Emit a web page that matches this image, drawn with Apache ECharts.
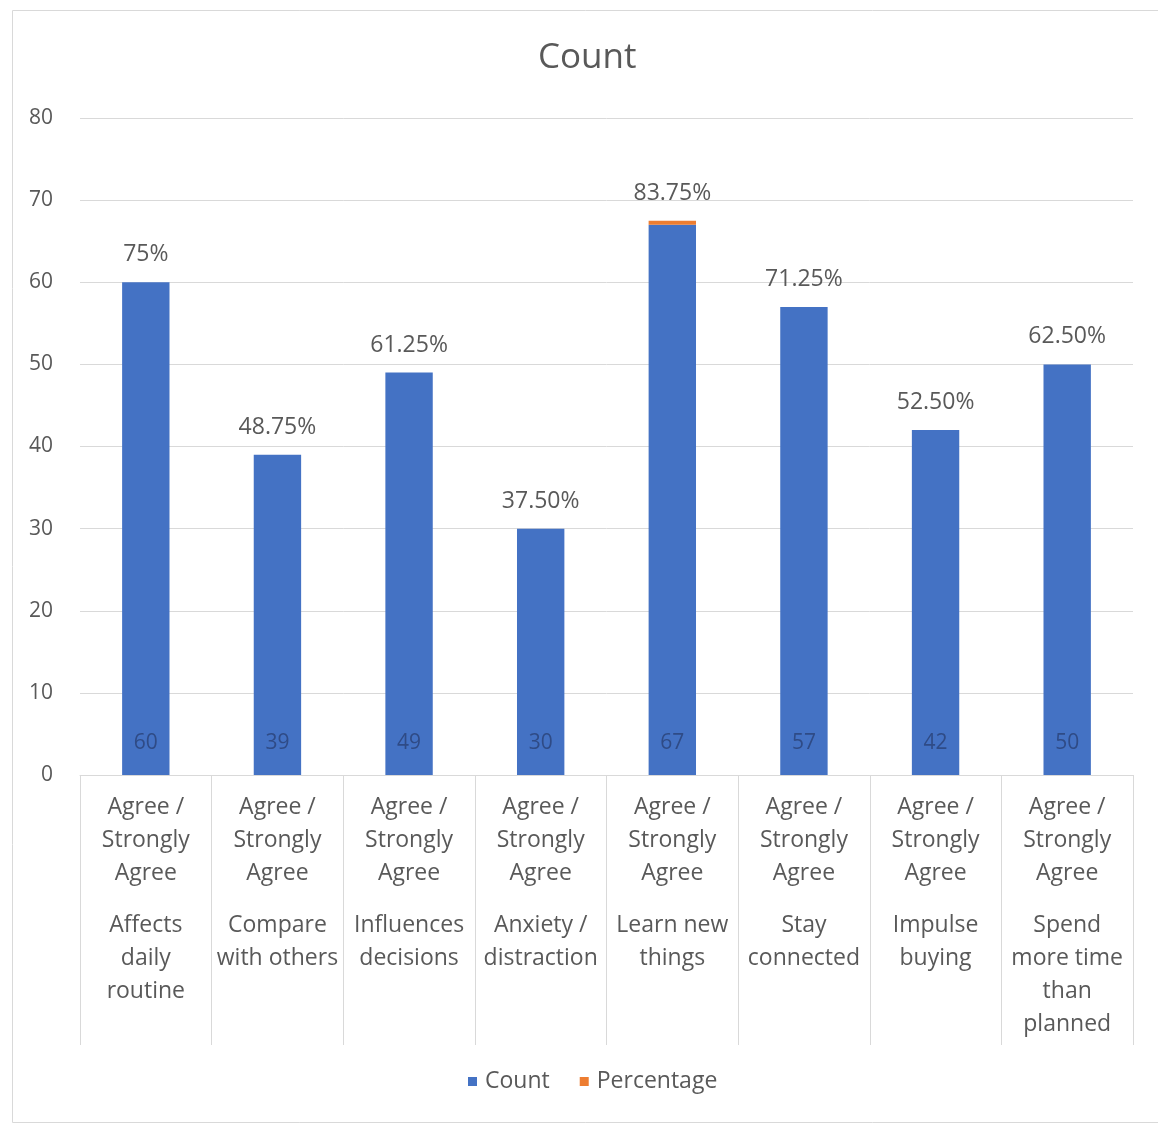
<!DOCTYPE html>
<html>
<head>
<meta charset="utf-8">
<script src="https://cdn.jsdelivr.net/npm/echarts@6/dist/echarts.min.js"></script>
<style>html,body{margin:0;padding:0;background:#fff}#c{width:1158px;height:1125px}</style>
</head>
<body>
<div id="c"></div>
<script>
const groupLabels = ["Agree /\nStrongly\nAgree","Agree /\nStrongly\nAgree","Agree /\nStrongly\nAgree","Agree /\nStrongly\nAgree","Agree /\nStrongly\nAgree","Agree /\nStrongly\nAgree","Agree /\nStrongly\nAgree","Agree /\nStrongly\nAgree"];
const questions = ["Affects\ndaily\nroutine","Compare\nwith others","Influences\ndecisions","Anxiety /\ndistraction","Learn new\nthings","Stay\nconnected","Impulse\nbuying","Spend\nmore time\nthan\nplanned"];
const counts = [60, 39, 49, 30, 67, 57, 42, 50];
const percentLabels = ["75%","48.75%","61.25%","37.50%","83.75%","71.25%","52.50%","62.50%"];
const percentBar = [0, 0, 0, 0, 0.5, 0, 0, 0];
const yTicks = [0, 10, 20, 30, 40, 50, 60, 70, 80];

const categories = questions.map((q, i) => i);
const chart = echarts.init(document.getElementById('c'));
const FONT = '"Open Sans", "Noto Sans", sans-serif';
const GRAY = '#595959';

function richLabel(i) {
  const g = groupLabels[i].split('\n').map(s => '{a|' + s + '}').join('\n');
  const q = questions[i].split('\n').map(s => '{a|' + s + '}').join('\n');
  return g + '\n{s| }\n' + q;
}

chart.setOption({
  animation: false,
  title: {
    text: 'Count', left: 533, top: 36,
    textStyle: { fontFamily: FONT, fontSize: 35, fontWeight: 'normal', color: GRAY }
  },
  graphic: [{
    type: 'rect', left: 10, top: 8, silent: true,
    shape: { width: 1160, height: 1112 },
    style: { fill: 'none', stroke: '#d9d9d9', lineWidth: 1 }
  }],
  legend: {
    bottom: 27, left: 463, icon: 'rect', itemWidth: 9, itemHeight: 9, itemGap: 30,
    textStyle: { fontFamily: FONT, fontSize: 23, color: GRAY, padding: [0, 0, 0, 3] },
    data: ['Count', 'Percentage']
  },
  grid: { left: 80, right: 25, top: 118, bottom: 350 },
  xAxis: {
    type: 'category', data: categories,
    axisLine: { lineStyle: { color: '#d9d9d9', width: 1 } },
    axisTick: { show: true, length: 270, lineStyle: { color: '#d9d9d9' } },
    axisLabel: {
      interval: 0, margin: 16, color: GRAY,
      formatter: (v, i) => richLabel(i),
      rich: {
        a: { fontFamily: FONT, fontSize: 23, lineHeight: 33, color: GRAY, align: 'center' },
        s: { fontSize: 10, lineHeight: 19 }
      }
    }
  },
  yAxis: {
    type: 'value', min: 0, max: 80, interval: 10,
    axisLine: { show: false }, axisTick: { show: false },
    splitLine: { lineStyle: { color: '#d9d9d9', width: 1 } },
    axisLabel: {
      margin: 27, color: GRAY, fontFamily: FONT, fontSize: 21,
      formatter: v => yTicks.includes(v) ? String(v) : ''
    }
  },
  series: [
    {
      name: 'Count', type: 'bar', stack: 'a', data: counts, barWidth: '36%',
      itemStyle: { color: '#4472C4' },
      label: {
        show: true, position: 'insideBottom', distance: 21,
        color: '#2F4B86', fontFamily: FONT, fontSize: 21
      }
    },
    {
      name: 'Percentage', type: 'bar', stack: 'a', data: percentBar, barWidth: '36%',
      itemStyle: { color: '#ED7D31' },
      label: {
        show: true, position: 'top', distance: 16,
        color: GRAY, fontFamily: FONT, fontSize: 23,
        formatter: p => percentLabels[p.dataIndex]
      }
    }
  ]
});
</script>
</body>
</html>
